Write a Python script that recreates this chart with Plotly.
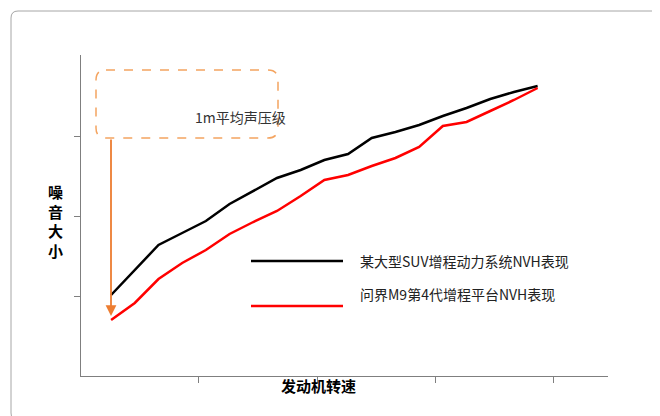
import plotly.graph_objects as go

# engine speed steps (index) and noise level (arbitrary units)
speed_idx = list(range(19))
suv_noise = [81, 106, 131, 143, 155, 172, 185, 198, 206, 216, 222, 238, 244, 251, 260, 268, 277, 284, 290]
m9_noise = [56, 73, 97, 113, 126, 142, 154, 165, 180, 196, 201, 210, 218, 229, 250, 254, 265, 276, 288]
names = ["某大型SUV增程动力系统NVH表现", "问界M9第4代增程平台NVH表现"]
colors = ["#000000", "#ff0000"]

W, H = 660, 416
L, R, T, B = 73, 60, 47, 48
pw, ph = W - L - R, H - T - B


def px(x):
    return (x - L) / pw


def py(y):
    return (H - B - y) / ph


fig = go.Figure()
for ys, n, c in zip([suv_noise, m9_noise], names, colors):
    fig.add_trace(go.Scatter(x=speed_idx, y=ys, mode="lines", name=n,
                             line=dict(color=c, width=2.5), showlegend=False))

shapes = [
    # outer rounded frame
    dict(type="path", xref="paper", yref="paper",
         path=f"M {px(10)},{py(3)} L {px(650)},{py(3)} Q {px(657)},{py(3)} {px(657)},{py(10)} "
              f"L {px(657)},{py(405)} Q {px(657)},{py(412)} {px(650)},{py(412)} "
              f"L {px(10)},{py(412)} Q {px(3)},{py(412)} {px(3)},{py(405)} "
              f"L {px(3)},{py(10)} Q {px(3)},{py(3)} {px(10)},{py(3)} Z",
         line=dict(color="#a6a6a6", width=1)),
    # dashed orange callout box
    dict(type="path", xref="paper", yref="paper",
         path=f"M {px(98)},{py(62)} L {px(260)},{py(62)} Q {px(270)},{py(62)} {px(270)},{py(72)} "
              f"L {px(270)},{py(120)} Q {px(270)},{py(130)} {px(260)},{py(130)} "
              f"L {px(98)},{py(130)} Q {px(88)},{py(130)} {px(88)},{py(120)} "
              f"L {px(88)},{py(72)} Q {px(88)},{py(62)} {px(98)},{py(62)} Z",
         line=dict(color="#f4a460", width=1.5, dash="dash")),
]
for yy, c in zip([253, 298], colors):
    shapes.append(dict(type="line", xref="paper", yref="paper", x0=px(243), x1=px(335),
                       y0=py(yy), y1=py(yy), line=dict(color=c, width=2.5)))

annotations = [
    dict(x=px(185), y=py(97), xref="paper", yref="paper", text="1m平均声压级", showarrow=False,
         font=dict(size=14, color="#333")),
    dict(x=px(103), y=py(308), ax=0, ay=-178, xref="paper", yref="paper",
         text="", showarrow=True, arrowhead=2, arrowsize=1.2,
         arrowwidth=1.8, arrowcolor="#ed7d31"),
    dict(x=px(310), y=py(390), xref="paper", yref="paper", text="<b>发动机转速</b>", showarrow=False,
         font=dict(size=15, color="#000")),
    dict(x=px(38), y=py(213), xref="paper", yref="paper", text="<b>噪<br>音<br>大<br>小</b>",
         showarrow=False, font=dict(size=15, color="#000")),
]
for yy, n in zip([253, 298], names):
    annotations.append(dict(x=px(350), y=py(yy), xref="paper", yref="paper", text=n,
                            showarrow=False, xanchor="left", font=dict(size=14, color="#222")))

fig.update_layout(
    width=W, height=H, margin=dict(l=L, r=R, t=T, b=B),
    plot_bgcolor="white", paper_bgcolor="white",
    font=dict(family="Noto Sans CJK SC"),
    shapes=shapes, annotations=annotations,
    xaxis=dict(range=[-1.27, 20.97], showgrid=False, zeroline=False, showline=True,
               linecolor="#7f7f7f", linewidth=1, tickvals=[3.67, 8.73, 13.7, 18.65],
               ticks="outside", ticklen=6, tickcolor="#7f7f7f", showticklabels=False),
    yaxis=dict(range=[0, 321], showgrid=False, zeroline=False, showline=True,
               linecolor="#7f7f7f", linewidth=1, tickvals=[80, 160, 240],
               ticks="outside", ticklen=6, tickcolor="#7f7f7f", showticklabels=False),
)
fig.write_html("out.html")
